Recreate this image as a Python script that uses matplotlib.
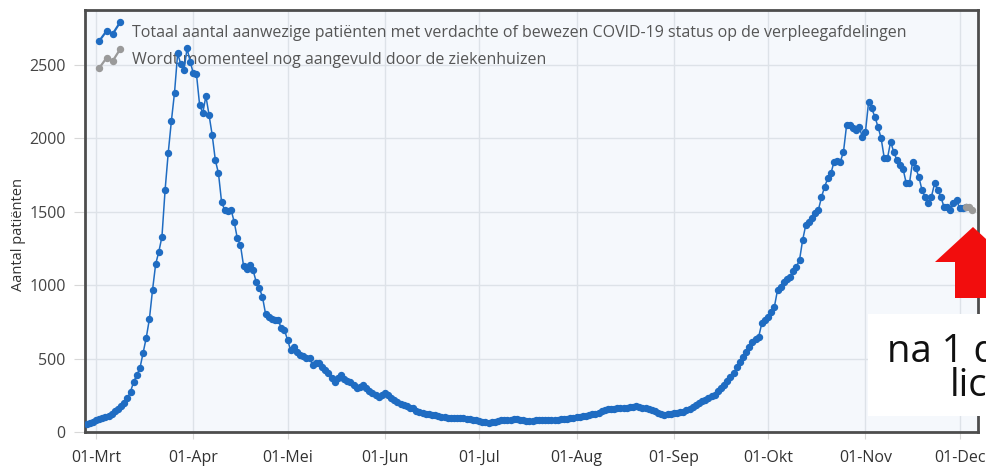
import numpy as np
import pandas as pd
import matplotlib
matplotlib.use("Agg")
import matplotlib.pyplot as plt
from matplotlib.legend_handler import HandlerBase
from matplotlib.lines import Line2D
from matplotlib.patches import Polygon, Rectangle

plt.rcParams['font.family'] = ['Open Sans', 'DejaVu Sans']

# bezetting verpleegafdelingen, per dag vanaf 27 feb 2020
feb = [55, 62, 70]
mrt = [80, 88, 96, 104, 112, 125, 140, 155, 175, 197, 231, 275, 343, 388, 436, 540,
       642, 769, 967, 1144, 1228, 1330, 1648, 1902, 2118, 2311, 2579, 2506, 2465, 2613, 2522]
apr = [2443, 2436, 2227, 2174, 2288, 2159, 2023, 1852, 1762, 1564, 1512, 1507, 1515, 1432,
       1319, 1273, 1130, 1110, 1140, 1103, 1024, 980, 921, 804, 785, 769, 760, 763, 708, 695]
mei = [627, 558, 581, 545, 524, 515, 505, 502, 456, 470, 468, 440, 422, 400, 370, 343,
       365, 388, 360, 350, 343, 320, 298, 305, 320, 300, 280, 263, 255, 240, 250]
jun = [263, 255, 235, 218, 205, 190, 184, 175, 165, 161, 145, 135, 127, 125, 122, 118,
       116, 110, 105, 100, 93, 98, 95, 97, 95, 92, 90, 88, 85, 80]
jul = [75, 70, 68, 63, 65, 70, 77, 80, 82, 85, 84, 86, 86, 82, 80, 78, 77, 77, 79, 80,
       82, 83, 82, 84, 85, 85, 86, 86, 88, 92, 96]
aug = [100, 103, 108, 112, 116, 120, 125, 131, 140, 148, 154, 157, 160, 161, 161, 163,
       165, 168, 172, 177, 170, 165, 161, 156, 150, 140, 130, 120, 116, 120, 124]
sep = [127, 130, 134, 138, 150, 160, 172, 185, 195, 210, 218, 235, 245, 252, 280, 300,
       320, 345, 377, 400, 440, 479, 510, 545, 581, 615, 635, 649, 740, 760]
okt = [785, 820, 853, 967, 990, 1024, 1040, 1058, 1100, 1126, 1171, 1308, 1410, 1432,
       1460, 1489, 1512, 1600, 1671, 1728, 1762, 1841, 1845, 1841, 1909, 2091, 2091,
       2068, 2060, 2079, 2011]
nov = [2045, 2249, 2204, 2147, 2079, 2000, 1864, 1864, 1977, 1909, 1852, 1818, 1790,
       1693, 1693, 1841, 1796, 1739, 1648, 1600, 1557, 1602, 1693, 1648, 1602, 1534,
       1534, 1512, 1560, 1580]
dec = [1523, 1523, 1530]
dec_aanvulling = [1534, 1512]

blauw = feb + mrt + apr + mei + jun + jul + aug + sep + okt + nov + dec
datums = pd.date_range('2020-02-27', periods=len(blauw) + len(dec_aanvulling), freq='D')
datums_blauw = datums[:len(blauw)]
datums_grijs = datums[len(blauw) - 1:]
grijs = [blauw[-1]] + dec_aanvulling

maanden = ['01-Mrt', '01-Apr', '01-Mei', '01-Jun', '01-Jul', '01-Aug', '01-Sep',
           '01-Okt', '01-Nov', '01-Dec']
maand_datums = pd.date_range('2020-03-01', periods=10, freq='MS')

label_blauw = 'Totaal aantal aanwezige patiënten met verdachte of bewezen COVID-19 status op de verpleegafdelingen'
label_grijs = 'Wordt momenteel nog aangevuld door de ziekenhuizen'

blue = '#1f6cc2'
grey = '#9a9a9a'


class Zigzag(HandlerBase):
    def create_artists(self, legend, orig_handle, xdescent, ydescent, width, height, fontsize, trans):
        xs = np.array([0.0, 0.35, 0.65, 1.0]) * width - xdescent
        ys = np.array([-0.15, 0.55, 0.35, 1.15]) * height - ydescent
        ln = Line2D(xs, ys, color=orig_handle.get_color(), marker='o', markersize=4.3, lw=1.6)
        ln.set_transform(trans)
        return [ln]


fig = plt.figure(figsize=(9.86, 4.72), dpi=100)
ax = fig.add_axes([85 / 986, 1 - 432 / 472, (978 - 85) / 986, (432 - 10) / 472])
ax.set_facecolor('#f5f8fc')

l1, = ax.plot(datums_blauw, blauw, color=blue, marker='o', markersize=4.3, lw=1.1, zorder=3)
l2, = ax.plot(datums_grijs, grijs, color=grey, marker='o', markersize=4.3, lw=1.1, zorder=3)

ax.set_xlim(pd.Timestamp('2020-02-26 12:00'), pd.Timestamp('2020-12-06 20:00'))
ax.set_ylim(0, 2875)
ax.set_yticks([0, 500, 1000, 1500, 2000, 2500])
ax.set_xticks(maand_datums)
ax.set_xticklabels(maanden)
ax.tick_params(axis='x', labelsize=11.5, colors='#d8d8d8', labelcolor='#333333', length=5, pad=8)
ax.tick_params(axis='y', labelsize=11.5, colors='#d8d8d8', labelcolor='#444444', length=8, pad=6)
ax.grid(True, color='#dde2e8', lw=1)
ax.set_axisbelow(True)
for s in ax.spines.values():
    s.set_color('#4d4d4d')
    s.set_linewidth(2)
ax.set_ylabel('Aantal patiënten', fontsize=10.5, color='#333333')
ax.yaxis.set_label_coords(-59 / 893, 0.467)

leg = ax.legend([l1, l2], [label_blauw, label_grijs], loc='upper left',
                handler_map={l1: Zigzag(), l2: Zigzag()}, frameon=False, fontsize=11.5,
                handlelength=1.3, handleheight=1.0, handletextpad=0.75, labelspacing=0.65,
                borderaxespad=0.3, borderpad=0.6)
for t in leg.get_texts():
    t.set_color('#555555')
leg.set_zorder(2)


def px(x, y):
    return (x / 986, 1 - y / 472)


# wit kader met tekst en rode pijl rechts
fig.add_artist(Rectangle(px(868, 416), (990 - 868) / 986, (416 - 314) / 472,
                         transform=fig.transFigure, facecolor='white', edgecolor='none', zorder=5))
pijl = [px(973, 227), px(1011, 262), px(991, 262), px(991, 298), px(955, 298), px(955, 262), px(935, 262)]
fig.add_artist(Polygon(pijl, closed=True, transform=fig.transFigure, facecolor='#f20d0d',
                       edgecolor='none', zorder=6))
fig.text(887 / 986, 1 - 352 / 472, 'na 1 d', fontsize=27.5, color='#111111',
         va='center', ha='left', zorder=7)
fig.text(950 / 986, 1 - 386 / 472, 'lich', fontsize=27.5, color='#111111',
         va='center', ha='left', zorder=7)

fig.savefig('out.png', dpi=100, facecolor='white')
